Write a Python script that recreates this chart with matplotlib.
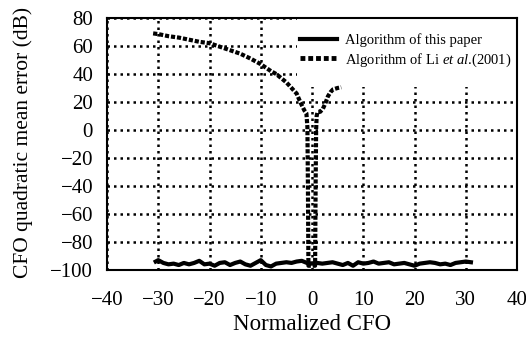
import matplotlib.pyplot as plt
from matplotlib.patches import Rectangle

plt.rcParams['font.family'] = ['Liberation Serif', 'DejaVu Serif']
plt.rcParams['mathtext.fontset'] = 'custom'
plt.rcParams['mathtext.rm'] = 'Liberation Serif'
plt.rcParams['mathtext.it'] = 'Liberation Serif:italic'

# Algorithm of Li et al.(2001)
li_x = [-31, -30, -28, -26, -24, -22, -20, -18, -16, -14, -12, -10, -9, -8, -7,
        -6, -5, -4, -3, -2.3, -1.5, -1.1, -0.9, -0.8, -0.7, 0.6, 0.7, 0.8, 0.9,
        1.1, 1.6, 2.1, 2.6, 3.1, 3.6, 4.1, 5, 5.7]
li_y = [69, 68.5, 67, 66, 64.5, 63, 62, 59.5, 57, 54.5, 51, 47, 44.5, 42, 40,
        37, 34, 30, 26, 20, 14, 12, 2, -40, -97, -97, -40, 0, 10,
        13, 13, 15, 19, 24, 27, 29, 30, 30.5]

# Algorithm of this paper
ours_x = [-30.5] + list(range(-30, 32))
ours_y = [-94, -93, -95, -96, -95.5, -96.5, -95, -96, -95, -93.5, -96, -95.5,
          -97, -95, -94.5, -96.5, -95, -94, -96, -97, -95, -93, -96.5, -97.5,
          -95.5, -95, -94.5, -95, -94, -93.5, -95, -95.5, -95, -95.5, -95,
          -94.5, -95.5, -96.5, -95, -97, -94.5, -95.5, -95, -94, -95.5, -95,
          -94.5, -96, -95.5, -95, -96, -97, -95.5, -95, -94.5, -95, -96,
          -95.5, -96.5, -95, -94.5, -94, -94.5]

xticks = [-40, -30, -20, -10, 0, 10, 20, 30, 40]
yticks = [80, 60, 40, 20, 0, -20, -40, -60, -80, -100]

fig = plt.figure(figsize=(5.26, 3.37), dpi=100)
ax = fig.add_axes([0.2034, 0.199, 0.7796, 0.7476])

ax.plot(ours_x, ours_y, color='black', lw=3, solid_joinstyle='round',
        label='Algorithm of this paper', zorder=3)
ax.plot(li_x, li_y, color='black', lw=3, linestyle=(0, (1, 0.45)),
        label='Algorithm of Li $\\it{et\\ al}$.(2001)', zorder=3)

ax.set_xlim(-40, 40)
ax.set_ylim(-100, 80)
ax.set_xticks(xticks)
ax.set_yticks(yticks)
ax.tick_params(length=0, labelsize=15)
ax.tick_params(axis='x', pad=15)
ax.tick_params(axis='y', pad=10)

ax.set_axisbelow(True)
ax.grid(True, color='black', lw=1.8, linestyle=(0, (1, 1.6)))
for s in ax.spines.values():
    s.set_linewidth(1.5)

# white area behind the legend hides the grid there
ax.add_patch(Rectangle((0.463, 0.726), 0.537, 0.274, transform=ax.transAxes,
                       facecolor='white', edgecolor='none', zorder=1))

leg = ax.legend(loc='upper left', bbox_to_anchor=(0.471, 0.94), frameon=False,
                fontsize=10.5, borderpad=0, borderaxespad=0, handlelength=2.5,
                handletextpad=0.55, labelspacing=0.3)
leg.get_lines()[0].set_linewidth(3)
leg.get_lines()[1].set_linewidth(3.5)
leg.get_lines()[1].set_linestyle((0, (1, 0.6)))

ax.set_xlabel('Normalized CFO', fontsize=16.5)
ax.set_ylabel('CFO quadratic mean error (dB)', fontsize=15.5)
ax.xaxis.set_label_coords(0.5, -0.175)
ax.yaxis.set_label_coords(-0.18, 0.505)

fig.savefig('out.png', dpi=100)
